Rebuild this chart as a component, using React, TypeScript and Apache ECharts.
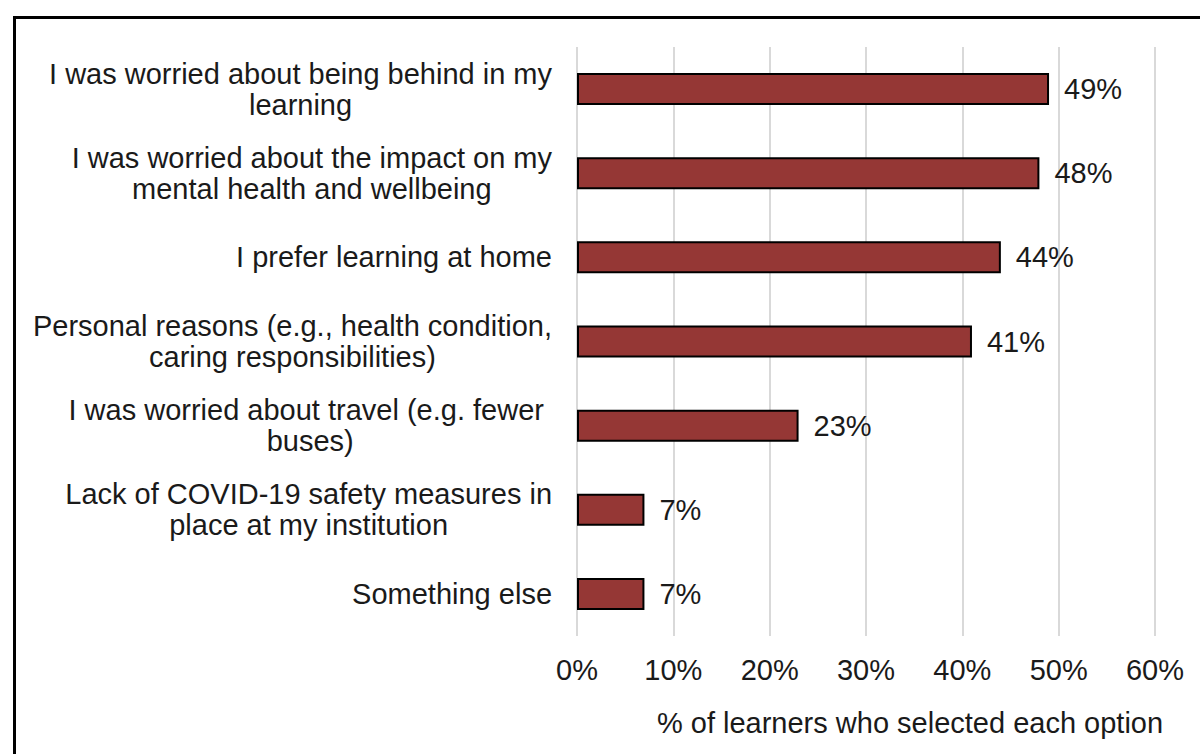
import React, { useEffect, useRef } from "react";
import * as echarts from "echarts";

const categories: string[] = [
  "I was worried about being behind in my\nlearning",
  "I was worried about the impact on my\nmental health and wellbeing",
  "I prefer learning at home",
  "Personal reasons (e.g., health condition,\ncaring responsibilities)",
  "I was worried about travel (e.g. fewer \nbuses)",
  "Lack of COVID-19 safety measures in\nplace at my institution",
  "Something else",
];
const values: number[] = [49, 48, 44, 41, 23, 7, 7];
const axisTitle = "% of learners who selected each option";

const FONT = "'Liberation Sans', Arial, sans-serif";
const TEXT = "#1a1a1a";
const FS = 29;

export default function App() {
  const ref = useRef<HTMLDivElement>(null);
  useEffect(() => {
    if (!ref.current) return;
    const chart = echarts.init(ref.current, undefined, { renderer: "svg" });
    chart.setOption({
      animation: false,
      backgroundColor: "#ffffff",
      textStyle: { fontFamily: FONT },
      grid: { left: 577, right: 45, top: 47, bottom: 118, containLabel: false },
      xAxis: {
        type: "value",
        min: 0,
        max: 60,
        interval: 10,
        axisLine: { show: false },
        axisTick: { show: false },
        splitLine: { show: true, lineStyle: { color: "#d9d9d9", width: 2 } },
        axisLabel: {
          formatter: (v: number) => `${v}%`,
          fontSize: FS,
          color: TEXT,
          fontFamily: FONT,
          margin: 19,
        },
        name: axisTitle,
        nameLocation: "middle",
        nameGap: 72,
        nameTextStyle: {
          fontSize: FS,
          color: TEXT,
          fontFamily: FONT,
          padding: [0, 0, 0, 88],
        },
      },
      yAxis: {
        type: "category",
        data: categories,
        inverse: true,
        axisLine: { show: false },
        axisTick: { show: false },
        splitLine: { show: false },
        axisLabel: {
          margin: 25,
          align: "right",
          formatter: (v: string) =>
            v
              .split("\n")
              .map((l) => `{c|${l}}`)
              .join("\n"),
          rich: {
            c: {
              fontSize: FS,
              lineHeight: 31,
              color: TEXT,
              fontFamily: FONT,
              align: "center",
            },
          },
        },
      },
      series: [
        {
          type: "bar",
          data: values,
          barWidth: 32,
          itemStyle: { color: "#953735", borderColor: "#000000", borderWidth: 2 },
          label: {
            show: true,
            position: "right",
            distance: 15,
            formatter: (p: any) => `${p.value}%`,
            fontSize: FS,
            color: TEXT,
            fontFamily: FONT,
          },
        },
      ],
      graphic: [
        {
          type: "rect",
          left: 12,
          top: 15,
          shape: { x: 0, y: 0, width: 1200, height: 760 },
          style: { fill: "none", stroke: "#000000", lineWidth: 3 },
          silent: true,
        },
      ],
    });
    return () => chart.dispose();
  }, []);
  return (
    <div
      ref={ref}
      style={{ position: "fixed", left: 0, top: 0, width: 1200, height: 754 }}
    />
  );
}
